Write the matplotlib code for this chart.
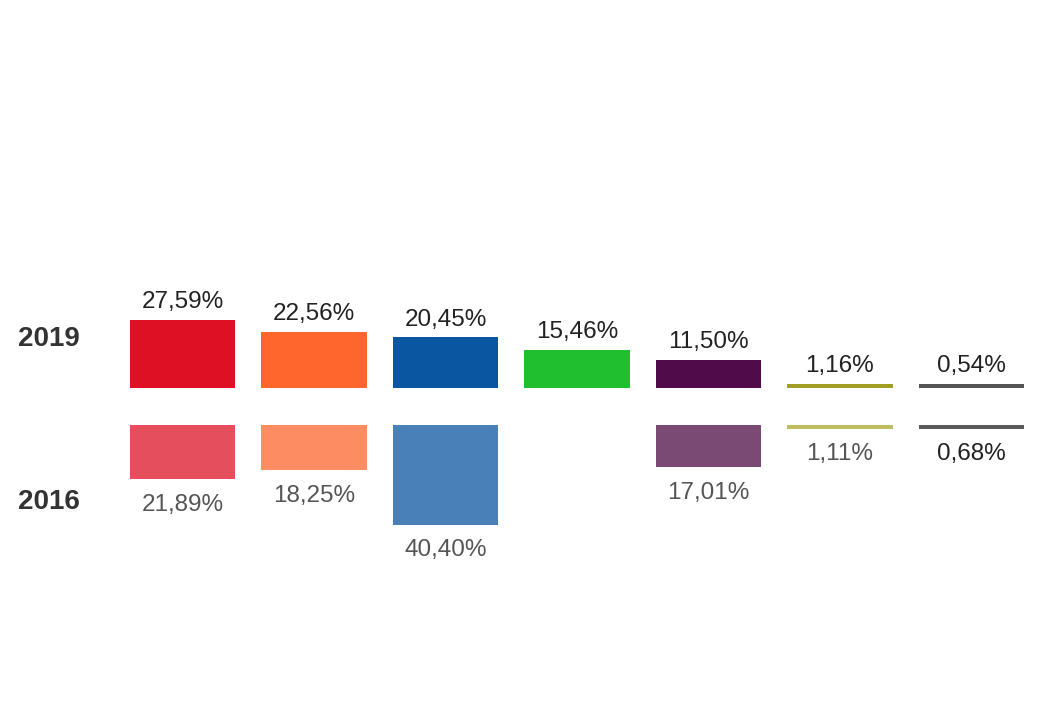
import matplotlib.pyplot as plt

plt.rcParams['font.family'] = ['Liberation Sans', 'DejaVu Sans']

parties = ['P1', 'P2', 'P3', 'P4', 'P5', 'P6', 'P7']
vals_2019 = [27.59, 22.56, 20.45, 15.46, 11.50, 1.16, 0.54]
vals_2016 = [21.89, 18.25, 40.40, None, 17.01, 1.11, 0.68]
labels_2019 = ['27,59%', '22,56%', '20,45%', '15,46%', '11,50%', '1,16%', '0,54%']
labels_2016 = ['21,89%', '18,25%', '40,40%', '', '17,01%', '1,11%', '0,68%']
colors_2019 = ['#DE1124', '#FF662E', '#0A56A0', '#1FBF2F', '#4F0B4A', '#A09E23', '#555555']
colors_2016 = ['#E54E5C', '#FD8C63', '#4A80B8', '#FFFFFF', '#7A4A75', '#BDBE60', '#595959']
label_colors_2016 = ['#555555', '#555555', '#555555', '#555555', '#555555', '#555555', '#222222']

fig = plt.figure(figsize=(10.6, 7.12), dpi=100)
ax = fig.add_axes([0, 0, 1, 1])
ax.set_xlim(-182.5 / 131.5, (1060 - 182.5) / 131.5)
ax.set_ylim(-324 / 2.47, (712 - 324) / 2.47)
ax.axis('off')

gap = 15.0      # space between the two baselines, in %
min_h = 1.5     # tiny values still show as a line
width = 0.8

for i, p in enumerate(parties):
    v = vals_2019[i]
    h = max(v, min_h)
    ax.bar(i, h, width=width, bottom=0, color=colors_2019[i], linewidth=0)
    ax.annotate(labels_2019[i], (i, h), xytext=(0, 5), textcoords='offset points',
                ha='center', va='bottom', fontsize=17.5, color='#222222')

    v = vals_2016[i]
    if v is None:
        continue
    h = max(v, min_h)
    ax.bar(i, -h, width=width, bottom=-gap, color=colors_2016[i], linewidth=0)
    ax.annotate(labels_2016[i], (i, -gap - h), xytext=(0, -10.5), textcoords='offset points',
                ha='center', va='top', fontsize=17.5, color=label_colors_2016[i])

ax.text(-1.25, 19.8, '2019', ha='left', va='center', fontsize=20,
        fontweight='bold', color='#333333')
ax.text(-1.25, -46.2, '2016', ha='left', va='center', fontsize=20,
        fontweight='bold', color='#333333')

fig.savefig('out.png', dpi=100)
